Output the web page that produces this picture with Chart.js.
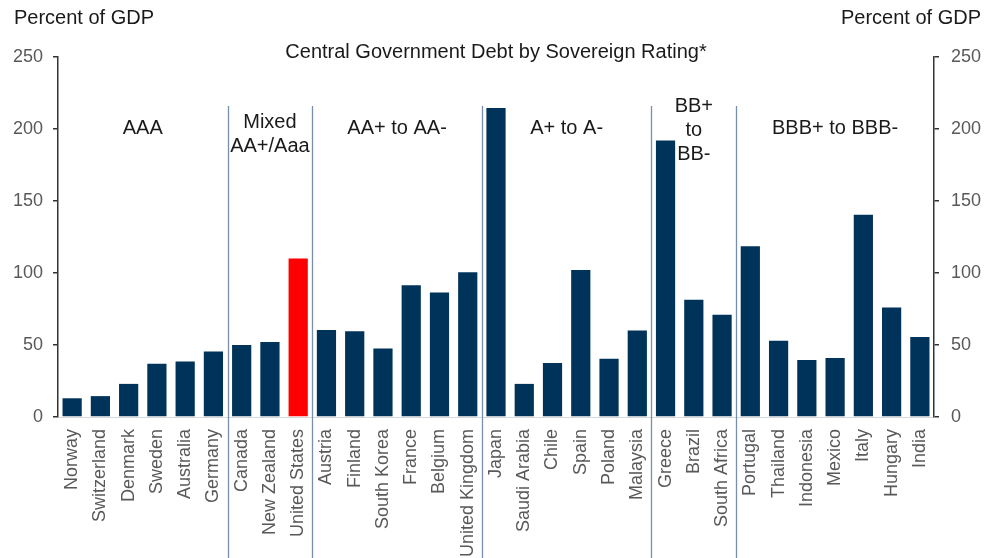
<!DOCTYPE html>
<html>
<head>
<meta charset="utf-8">
<script src="https://cdn.jsdelivr.net/npm/chart.js@4"></script>
<style>
  html, body { margin: 0; padding: 0; background: #fff; }
  #wrap { width: 1002px; height: 558px; }
</style>
</head>
<body>
<div id="wrap"><canvas id="deuda"></canvas></div>
<script>
// datos (porcentaje del PIB)
const countries = [
  "Norway", "Switzerland", "Denmark", "Sweden", "Australia", "Germany",
  "Canada", "New Zealand", "United States",
  "Austria", "Finland", "South Korea", "France", "Belgium", "United Kingdom",
  "Japan", "Saudi Arabia", "Chile", "Spain", "Poland", "Malaysia",
  "Greece", "Brazil", "South Africa",
  "Portugal", "Thailand", "Indonesia", "Mexico", "Italy", "Hungary", "India",
];
const debt = [
  13, 14.5, 23, 37, 38.5, 45.5,
  50, 52, 110,
  60.5, 59.5, 47.5, 91.5, 86.5, 100.5,
  214.5, 23, 37.5, 102, 40.5, 60,
  192, 81.5, 71,
  118.5, 53, 39.5, 41, 140.5, 76, 55.5,
];
const ratingGroups = ["AAA", "Mixed\nAA+/Aaa", "AA+ to AA-", "A+ to A-", "BB+\nto\nBB-", "BBB+ to BBB-"];
const groupSizes = [6, 3, 6, 6, 3, 7];
const yTicks = [0, 50, 100, 150, 200, 250];

const FONT = "'Liberation Sans', Arial, sans-serif";
const navy = "#003359";
const red = "#ff0000";

// colores: EE.UU. resaltado en rojo
const barColors = countries.map((c) => (c === "United States" ? red : navy));

// separadores y textos de grupo
const rotulos = {
  id: "rotulos",
  afterDraw(chart) {
    const ctx = chart.ctx;
    const x = chart.scales.x;
    const area = chart.chartArea;
    const step = x.getPixelForValue(1) - x.getPixelForValue(0);

    ctx.save();
    let start = 0;
    groupSizes.forEach((n, g) => {
      const left = x.getPixelForValue(start) - step / 2;
      const right = x.getPixelForValue(start + n - 1) + step / 2;
      if (g > 0) {
        ctx.strokeStyle = "#7890ad";
        ctx.lineWidth = 1.3;
        ctx.beginPath();
        ctx.moveTo(Math.round(left) + 0.5, 106);
        ctx.lineTo(Math.round(left) + 0.5, chart.height);
        ctx.stroke();
      }
      const lines = ratingGroups[g].split("\n");
      let y0 = 128;
      if (lines.length === 2) y0 = 122;
      if (lines.length === 3) y0 = 106;
      ctx.fillStyle = "#1a1a1a";
      ctx.font = "20px " + FONT;
      ctx.textAlign = "center";
      ctx.textBaseline = "middle";
      lines.forEach((l, i) => {
        ctx.fillText(l, (left + right) / 2, y0 + i * 24);
      });
      start += n;
    });

    // titulo y unidades
    ctx.fillStyle = "#1a1a1a";
    ctx.font = "20px " + FONT;
    ctx.textAlign = "center";
    ctx.fillText("Central Government Debt by Sovereign Rating*", (area.left + area.right) / 2, 52);
    ctx.textAlign = "left";
    ctx.fillText("Percent of GDP", 14, 18);
    ctx.textAlign = "right";
    ctx.fillText("Percent of GDP", 981, 18);
    ctx.restore();
  },
};

const yAxis = (pos, width, pad) => ({
  type: "linear",
  position: pos,
  min: 0,
  max: 250,
  afterBuildTicks: (axis) => {
    axis.ticks = yTicks.map((v) => ({ value: v }));
  },
  afterFit: (axis) => {
    axis.width = width;
  },
  border: { display: true, color: "#333333", width: 1.5 },
  grid: {
    drawOnChartArea: false,
    drawTicks: true,
    tickLength: 5,
    color: "#333333",
    lineWidth: 1.5,
  },
  ticks: {
    padding: pad,
    color: "#595959",
    font: { size: 18, family: FONT },
  },
});

new Chart(document.getElementById("deuda").getContext("2d"), {
  type: "bar",
  data: {
    labels: countries,
    datasets: [
      {
        data: debt,
        backgroundColor: barColors,
        borderWidth: 0,
        barPercentage: 0.68,
        categoryPercentage: 1,
      },
    ],
  },
  options: {
    responsive: true,
    maintainAspectRatio: false,
    animation: false,
    layout: { padding: { top: 57, left: 0, right: 0, bottom: 0 } },
    plugins: {
      legend: { display: false },
      tooltip: { enabled: false },
    },
    scales: {
      x: {
        offset: true,
        afterFit: (axis) => {
          axis.height = 141;
        },
        border: { display: true, color: "#d9d9d9", width: 1 },
        grid: { display: false },
        ticks: {
          autoSkip: false,
          minRotation: 90,
          maxRotation: 90,
          padding: 4,
          color: "#595959",
          font: { size: 18, family: FONT },
        },
      },
      y: yAxis("left", 58, 10),
      y2: yAxis("right", 68, 12),
    },
  },
  plugins: [rotulos],
});
</script>
</body>
</html>
